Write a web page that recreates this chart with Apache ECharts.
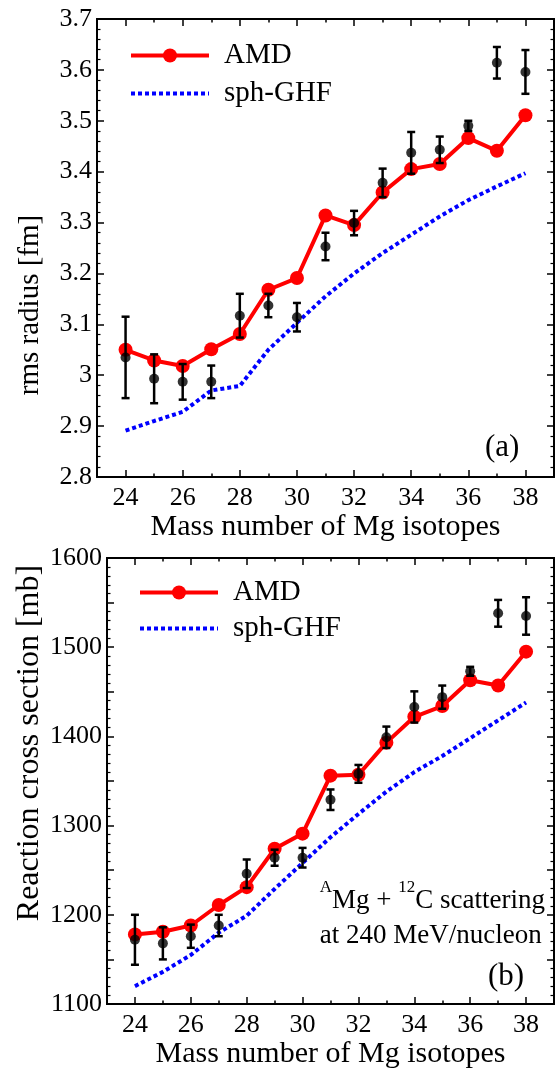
<!DOCTYPE html>
<html><head><meta charset="utf-8">
<script src="https://cdn.jsdelivr.net/npm/echarts@6/dist/echarts.min.js"></script>
<style>html,body{margin:0;padding:0;background:#fff}#c{width:556px;height:1070px}</style>
</head><body><div id="c"></div><script>
// ---- data ----
const massNumbers = [24,25,26,27,28,29,30,31,32,33,34,35,36,37,38];
const xMajorTicks = [24,26,28,30,32,34,36,38];
const xMinorTicks = [23,25,27,29,31,33,35,37,39];

// panel (a): rms radius [fm]
const amdRadius = [3.050,3.029,3.018,3.051,3.081,3.168,3.191,3.314,3.295,3.359,3.405,3.415,3.466,3.441,3.511];
const ghfRadius = [2.891,2.910,2.928,2.970,2.979,3.050,3.103,3.155,3.200,3.240,3.276,3.312,3.344,3.371,3.397];
const expRadius = [3.035,2.993,2.987,2.987,3.117,3.137,3.114,3.253,3.299,3.378,3.437,3.443,3.490,3.614,3.596];
const expRadiusErr = [0.080,0.048,0.035,0.032,0.043,0.023,0.028,0.027,0.024,0.028,0.041,0.026,0.010,0.031,0.043];

// panel (b): reaction cross section [mb]
const amdSigma = [1178,1181,1188,1211,1231,1274,1291,1356,1357,1393,1422,1434,1463,1457,1495];
const ghfSigma = [1120,1136,1155,1180,1199,1229,1258,1287,1313,1338,1360,1378,1398,1418,1438];
const expSigma = [1172,1168,1176,1188,1246,1264,1264,1329,1358,1399,1433,1444,1473,1538,1535];
const expSigmaErr = [28,18,13,12,16,9,11,11.5,10,12,17.5,13,5,15,21];

const FONT = "'Liberation Serif','Times New Roman',serif";

function xAxis(grid, position, ticks, len, labels, name) {
  return {
    type:'value', gridIndex:grid, position:position, min:23, max:39,
    axisLine:{show:true, onZero:false, lineStyle:{color:'#000', width:2}},
    axisTick:{show:true, inside:true, length:len, customValues:ticks, lineStyle:{color:'#000', width:1.5}},
    axisLabel:{show:labels, customValues:ticks, margin:8, color:'#000', fontFamily:FONT, fontSize:26},
    splitLine:{show:false},
    name: name || '', nameLocation:'middle', nameGap:35,
    nameTextStyle:{color:'#000', fontFamily:FONT, fontSize:30}
  };
}
function yAxis(grid, position, min, max, interval, labels, fmt) {
  return {
    type:'value', gridIndex:grid, position:position, min:min, max:max, interval:interval,
    axisLine:{show:true, onZero:false, lineStyle:{color:'#000', width:2}},
    axisTick:{show:true, inside:true, length:7, lineStyle:{color:'#000', width:1.5}},
    minorTick:{show:true, splitNumber:5, length:3.5, lineStyle:{color:'#000', width:1.2}},
    axisLabel:{show:labels, margin:5, color:'#000', fontFamily:FONT, fontSize:26, formatter:fmt},
    splitLine:{show:false}
  };
}

function errorBars(xi, yi, vals, errs) {
  return {
    type:'custom', xAxisIndex:xi, yAxisIndex:yi, z:4, silent:true,
    data: massNumbers.map((m,i)=>[m, vals[i]-errs[i], vals[i]+errs[i]]),
    renderItem(params, api){
      const x = api.value(0);
      const lo = api.coord([x, api.value(1)]);
      const hi = api.coord([x, api.value(2)]);
      const w = 4, st = {stroke:'#000', lineWidth:2.5};
      return {type:'group', children:[
        {type:'line', shape:{x1:lo[0],y1:lo[1],x2:hi[0],y2:hi[1]}, style:st},
        {type:'line', shape:{x1:lo[0]-w,y1:lo[1],x2:lo[0]+w,y2:lo[1]}, style:st},
        {type:'line', shape:{x1:hi[0]-w,y1:hi[1],x2:hi[0]+w,y2:hi[1]}, style:st}
      ]};
    }
  };
}

const pair = (ys) => massNumbers.map((m,i)=>[m, ys[i]]);

function legend(left, top, gap) {
  return {show:true, orient:'vertical', left:left, top:top, itemWidth:78, itemHeight:17.5, itemGap:gap,
    lineStyle:{width:4},
    data:[{name:'AMD'}, {name:'sph-GHF', itemStyle:{opacity:0}}],
    textStyle:{fontFamily:FONT, fontSize:29, color:'#000', lineHeight:28, padding:[0,0,0,10]}};
}

const option = {
  animation:false,
  backgroundColor:'#fff',
  grid:[
    {left:97, top:19, width:457, height:458},
    {left:107, top:558, width:447, height:447}
  ],
  xAxis:[
    xAxis(0,'bottom',xMajorTicks,7,true,'Mass number of Mg isotopes'),
    xAxis(0,'bottom',xMinorTicks,3.5,false),
    xAxis(0,'top',xMajorTicks,7,false),
    xAxis(0,'top',xMinorTicks,3.5,false),
    xAxis(1,'bottom',xMajorTicks,7,true,'Mass number of Mg isotopes'),
    xAxis(1,'bottom',xMinorTicks,3.5,false),
    xAxis(1,'top',xMajorTicks,7,false),
    xAxis(1,'top',xMinorTicks,3.5,false)
  ],
  yAxis:[
    yAxis(0,'left',2.8,3.7,0.1,true,null),
    yAxis(0,'right',2.8,3.7,0.1,false),
    yAxis(1,'left',1100,1600,50,true,(v)=> (v%100===0 ? String(v) : '')),
    yAxis(1,'right',1100,1600,50,false)
  ],
  legend:[ legend(124, 36, 9), legend(133, 573, 7) ],
  series:[
    {name:'sph-GHF', type:'line', xAxisIndex:0, yAxisIndex:0, data:pair(ghfRadius), symbol:'none', z:2,
     lineStyle:{color:'#0000ff', width:4, type:[4,3]}, itemStyle:{color:'#0000ff'}},
    {name:'AMD', type:'line', xAxisIndex:0, yAxisIndex:0, data:pair(amdRadius), symbol:'circle', symbolSize:14, z:3,
     lineStyle:{color:'#ff0000', width:4}, itemStyle:{color:'#ff0000'}},
    errorBars(0,0,expRadius,expRadiusErr),
    {name:'Exp-a', type:'scatter', xAxisIndex:0, yAxisIndex:0, data:pair(expRadius), symbolSize:10, z:5,
     itemStyle:{color:'#000'}},

    {name:'sph-GHF', type:'line', xAxisIndex:4, yAxisIndex:2, data:pair(ghfSigma), symbol:'none', z:2,
     lineStyle:{color:'#0000ff', width:4, type:[4,3]}, itemStyle:{color:'#0000ff'}},
    {name:'AMD', type:'line', xAxisIndex:4, yAxisIndex:2, data:pair(amdSigma), symbol:'circle', symbolSize:14, z:3,
     lineStyle:{color:'#ff0000', width:4}, itemStyle:{color:'#ff0000'}},
    errorBars(4,2,expSigma,expSigmaErr),
    {name:'Exp-b', type:'scatter', xAxisIndex:4, yAxisIndex:2, data:pair(expSigma), symbolSize:10, z:5,
     itemStyle:{color:'#000'}}
  ],
  graphic:[
    {type:'text', x:30, y:305, rotation:Math.PI/2,
     style:{text:'rms radius [fm]', font:'29px '+FONT, fill:'#000', align:'center', verticalAlign:'middle'}},
    {type:'text', x:30, y:743, rotation:Math.PI/2,
     style:{text:'Reaction cross section [mb]', font:'32px '+FONT, fill:'#000', align:'center', verticalAlign:'middle'}},
    {type:'text', left:485, top:432, style:{text:'(a)', font:'31px '+FONT, fill:'#000'}},
    {type:'text', left:488, top:961, style:{text:'(b)', font:'31px '+FONT, fill:'#000'}},
    {type:'text', right:11, top:879, style:{
      text:'{s|A}{n|Mg + }{s|12}{n|C scattering}\n{n|at 240 MeV/nucleon}', align:'right', fill:'#000',
      rich:{
        n:{fontFamily:FONT, fontSize:27, lineHeight:35, verticalAlign:'bottom'},
        s:{fontFamily:FONT, fontSize:17, lineHeight:35, verticalAlign:'top'}
      }}}
  ]
};
echarts.init(document.getElementById('c'), null, {renderer:'canvas'}).setOption(option);
</script></body></html>
